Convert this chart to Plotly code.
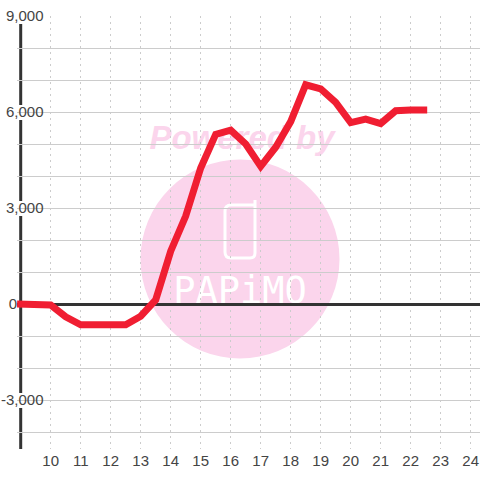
import plotly.graph_objects as go

hours = [8.88, 9.5, 10, 10.5, 11, 11.5, 12, 12.5, 13, 13.5, 14, 14.5, 15, 15.5, 16, 16.5,
         17, 17.5, 18, 18.5, 19, 19.5, 20, 20.5, 21, 21.5, 22, 22.55]
values = [0, 0, -30, -400, -650, -650, -650, -650, -380, 130, 1650, 2750, 4250, 5300,
          5430, 5000, 4300, 4900, 5700, 6850, 6720, 6300, 5670, 5780, 5640, 6040, 6060, 6060]
x_ticks = list(range(10, 25))
y_label_ticks = [-3000, 3000, 6000, 9000]
y_grid = list(range(-4000, 10000, 1000))

S = 480
LEFT, AXIS_X, BOTTOM, TOP = 17.1, 20.7, 449, 16
XMIN, XMAX = 10 - (50.7 - LEFT) / 30, 10 + (S - 50.7) / 30
YMIN, YMAX = (304 - BOTTOM) / 0.032, (304 - TOP) / 0.032
PINK = "#FBD5EC"
GRID = "#CCCCCC"


def fx(p):
    return p / S


def fy(p):
    return 1 - p / S


def page_shape(kind, x0, y0, x1, y1, **kw):
    return dict(type=kind, xref="paper", yref="paper", x0=fx(x0), x1=fx(x1), y0=fy(y0), y1=fy(y1), **kw)


def path(points):
    out = []
    for cmd, *pts in points:
        out.append(cmd + " ".join(f"{fx(x):.5f},{fy(y):.5f}" for x, y in pts))
    return " ".join(out)


phone = path([("M", (255, 200)), ("L", (255, 253)), ("Q", (255, 258), (250, 258)),
              ("L", (231, 258)), ("Q", (225, 258), (225, 252)), ("L", (225, 211)),
              ("Q", (225, 205), (231, 205)), ("L", (255, 205))])

shapes = [
    page_shape("circle", 140.5, 358.5, 339.5, 159.5, layer="below", fillcolor=PINK, line_width=0),
    dict(type="path", layer="below", xref="paper", yref="paper", path=phone,
         line=dict(color="white", width=3)),
    page_shape("rect", 142, 153, 342, 115, layer="below", fillcolor="rgba(0,0,0,0)", line_width=0,
               label=dict(text="<b><i>Powered by</i></b>", textposition="middle center",
                          font=dict(family="Liberation Sans", size=33, color=PINK))),
    page_shape("rect", 140, 306, 340, 268, layer="below", fillcolor="rgba(0,0,0,0)", line_width=0,
               label=dict(text="PAPiMO", textposition="middle center",
                          font=dict(family="DejaVu Sans Mono", size=37, color="white"))),
    page_shape("rect", 0, BOTTOM, AXIS_X, TOP, layer="between", fillcolor="white", line_width=0),
    page_shape("line", AXIS_X, BOTTOM, AXIS_X, TOP, layer="between", line=dict(color="#333333", width=3)),
]
for v in y_label_ticks:
    c = 304 - v * 0.032
    shapes.append(page_shape("rect", 2, c + 8, 45, c - 7, layer="between",
                             fillcolor="white", line_width=0))

fig = go.Figure()
fig.add_trace(go.Scatter(x=hours, y=values, mode="lines", cliponaxis=False,
                         line=dict(color="#F01E32", width=7), hoverinfo="skip"))
fig.add_trace(go.Scatter(x=[None], y=[None], yaxis="y2", hoverinfo="skip"))
label_font = dict(family="Liberation Sans", size=15, color="#444444")
fig.update_layout(
    width=S, height=S, margin=dict(l=0, r=0, t=0, b=0, autoexpand=False), showlegend=False,
    paper_bgcolor="white", plot_bgcolor="rgba(0,0,0,0)", shapes=shapes,
    xaxis=dict(domain=[LEFT / S, 1], range=[XMIN, XMAX], tickvals=x_ticks, automargin=False,
               ticktext=[str(t) for t in x_ticks], ticks="", showline=False, zeroline=False,
               showgrid=True, griddash="2px,4px", gridcolor=GRID, gridwidth=1,
               tickfont=label_font, tickangle=0, ticklabelstandoff=1),
    yaxis=dict(domain=[1 - BOTTOM / S, 1 - TOP / S], range=[YMIN, YMAX], tickvals=y_grid,
               ticktext=[f"{v:,}" if v in y_label_ticks else "" for v in y_grid], automargin=False,
               anchor="free", position=43.5 / S, ticks="", showline=False,
               zeroline=True, zerolinecolor="#333333", zerolinewidth=3,
               showgrid=True, gridcolor=GRID, gridwidth=1, tickfont=label_font),
    yaxis2=dict(domain=[1 - BOTTOM / S, 1 - TOP / S], range=[YMIN, YMAX], overlaying="y",
                tickvals=[0], ticktext=["0"], anchor="free", position=17 / S, ticks="", automargin=False,
                showline=False, zeroline=False, showgrid=False, tickfont=label_font),
)
fig.write_html("out.html", config=dict(displayModeBar=False),
               post_script="document.body.style.margin='0';document.body.style.overflow='hidden';")
